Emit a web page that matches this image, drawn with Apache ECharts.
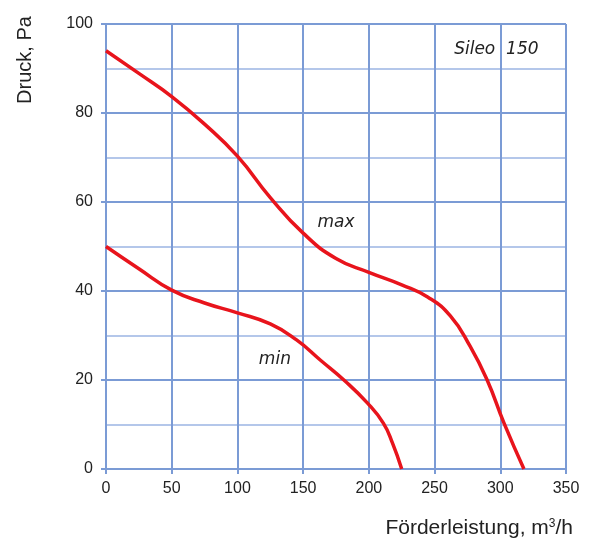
<!DOCTYPE html>
<html>
<head>
<meta charset="utf-8">
<script src="https://cdn.jsdelivr.net/npm/echarts@6/dist/echarts.min.js"></script>
<style>
  html, body { margin: 0; padding: 0; background: #fff; }
  #chart { width: 596px; height: 544px; }
</style>
</head>
<body>
<div id="chart"></div>
<script>
// Kennlinien Sileo 150 (Förderleistung m3/h, Druck Pa)
const maxCurve = [
  [0, 94], [25, 88.9], [50, 83.7], [75, 77.5], [100, 70.3], [125, 61],
  [150, 53], [175, 47.3], [200, 44.2], [225, 41.4], [245, 38.6], [262, 34.4],
  [277, 27.6], [290, 20], [303, 10.2], [318, 0]
]
const minCurve = [
  [0, 50], [25, 45], [50, 40.2], [75, 37.3], [100, 35.1], [125, 32.6],
  [145, 29], [163, 24.5], [181, 20], [199, 14.8], [211, 10.3], [218, 5.8], [225, 0]
]
const labels = [
  { name: 'Sileo  150', coord: [297, 94.2] },
  { name: 'max', coord: [175, 55.3] },
  { name: 'min', coord: [128.5, 24.7] }
]

const gridColor = '#7b9bd5'
const minorColor = '#b4c7ea'
const red = '#e8141c'

const chart = echarts.init(document.getElementById('chart'))
chart.setOption({
  animation: false,
  grid: { left: 106, right: 30, top: 24, bottom: 75 },
  xAxis: {
    type: 'value',
    min: 0,
    max: 350,
    interval: 50,
    axisLine: { lineStyle: { color: gridColor, width: 2 } },
    axisTick: { show: true, length: 5, lineStyle: { color: gridColor, width: 2 } },
    axisLabel: { color: '#222', fontSize: 16, fontFamily: 'Liberation Sans', margin: 12 },
    splitLine: { lineStyle: { color: gridColor, width: 2 } }
  },
  yAxis: {
    type: 'value',
    min: 0,
    max: 100,
    interval: 20,
    axisLine: { show: true, lineStyle: { color: gridColor, width: 2 } },
    axisTick: { show: true, length: 5, lineStyle: { color: gridColor, width: 2 } },
    axisLabel: { color: '#222', fontSize: 16, fontFamily: 'Liberation Sans', margin: 13 },
    splitLine: { lineStyle: { color: gridColor, width: 2 } },
    minorTick: { show: false, splitNumber: 2 },
    minorSplitLine: { show: true, lineStyle: { color: minorColor, width: 2 } }
  },
  graphic: [
    {
      type: 'text',
      x: 25, y: 60, rotation: Math.PI / 2,
      style: {
        text: 'Druck, Pa', fill: '#222', fontSize: 20, fontFamily: 'Liberation Sans',
        align: 'center', verticalAlign: 'middle'
      }
    },
    {
      type: 'text',
      x: 573, y: 528,
      style: {
        rich: { sup: { fontSize: 12, verticalAlign: 'top', fill: '#222', fontFamily: 'Liberation Sans', padding: [0, 0, 9, 0] } },
        text: 'Förderleistung, m{sup|3}/h', fill: '#222', fontSize: 21, fontFamily: 'Liberation Sans',
        align: 'right', verticalAlign: 'middle'
      }
    }
  ],
  series: [
    {
      type: 'line',
      data: maxCurve,
      smooth: 0.5,
      symbol: 'none',
      lineStyle: { color: red, width: 3.5 },
      markPoint: {
        symbol: 'circle',
        symbolSize: 1,
        itemStyle: { color: 'rgba(0,0,0,0)' },
        label: {
          show: true, position: 'inside', fontStyle: 'italic', fontSize: 17, color: '#222',
          fontFamily: 'DejaVu Sans', formatter: p => p.name
        },
        data: labels
      }
    },
    {
      type: 'line',
      data: minCurve,
      smooth: 0.5,
      symbol: 'none',
      lineStyle: { color: red, width: 3.5 }
    }
  ]
})
</script>
</body>
</html>
